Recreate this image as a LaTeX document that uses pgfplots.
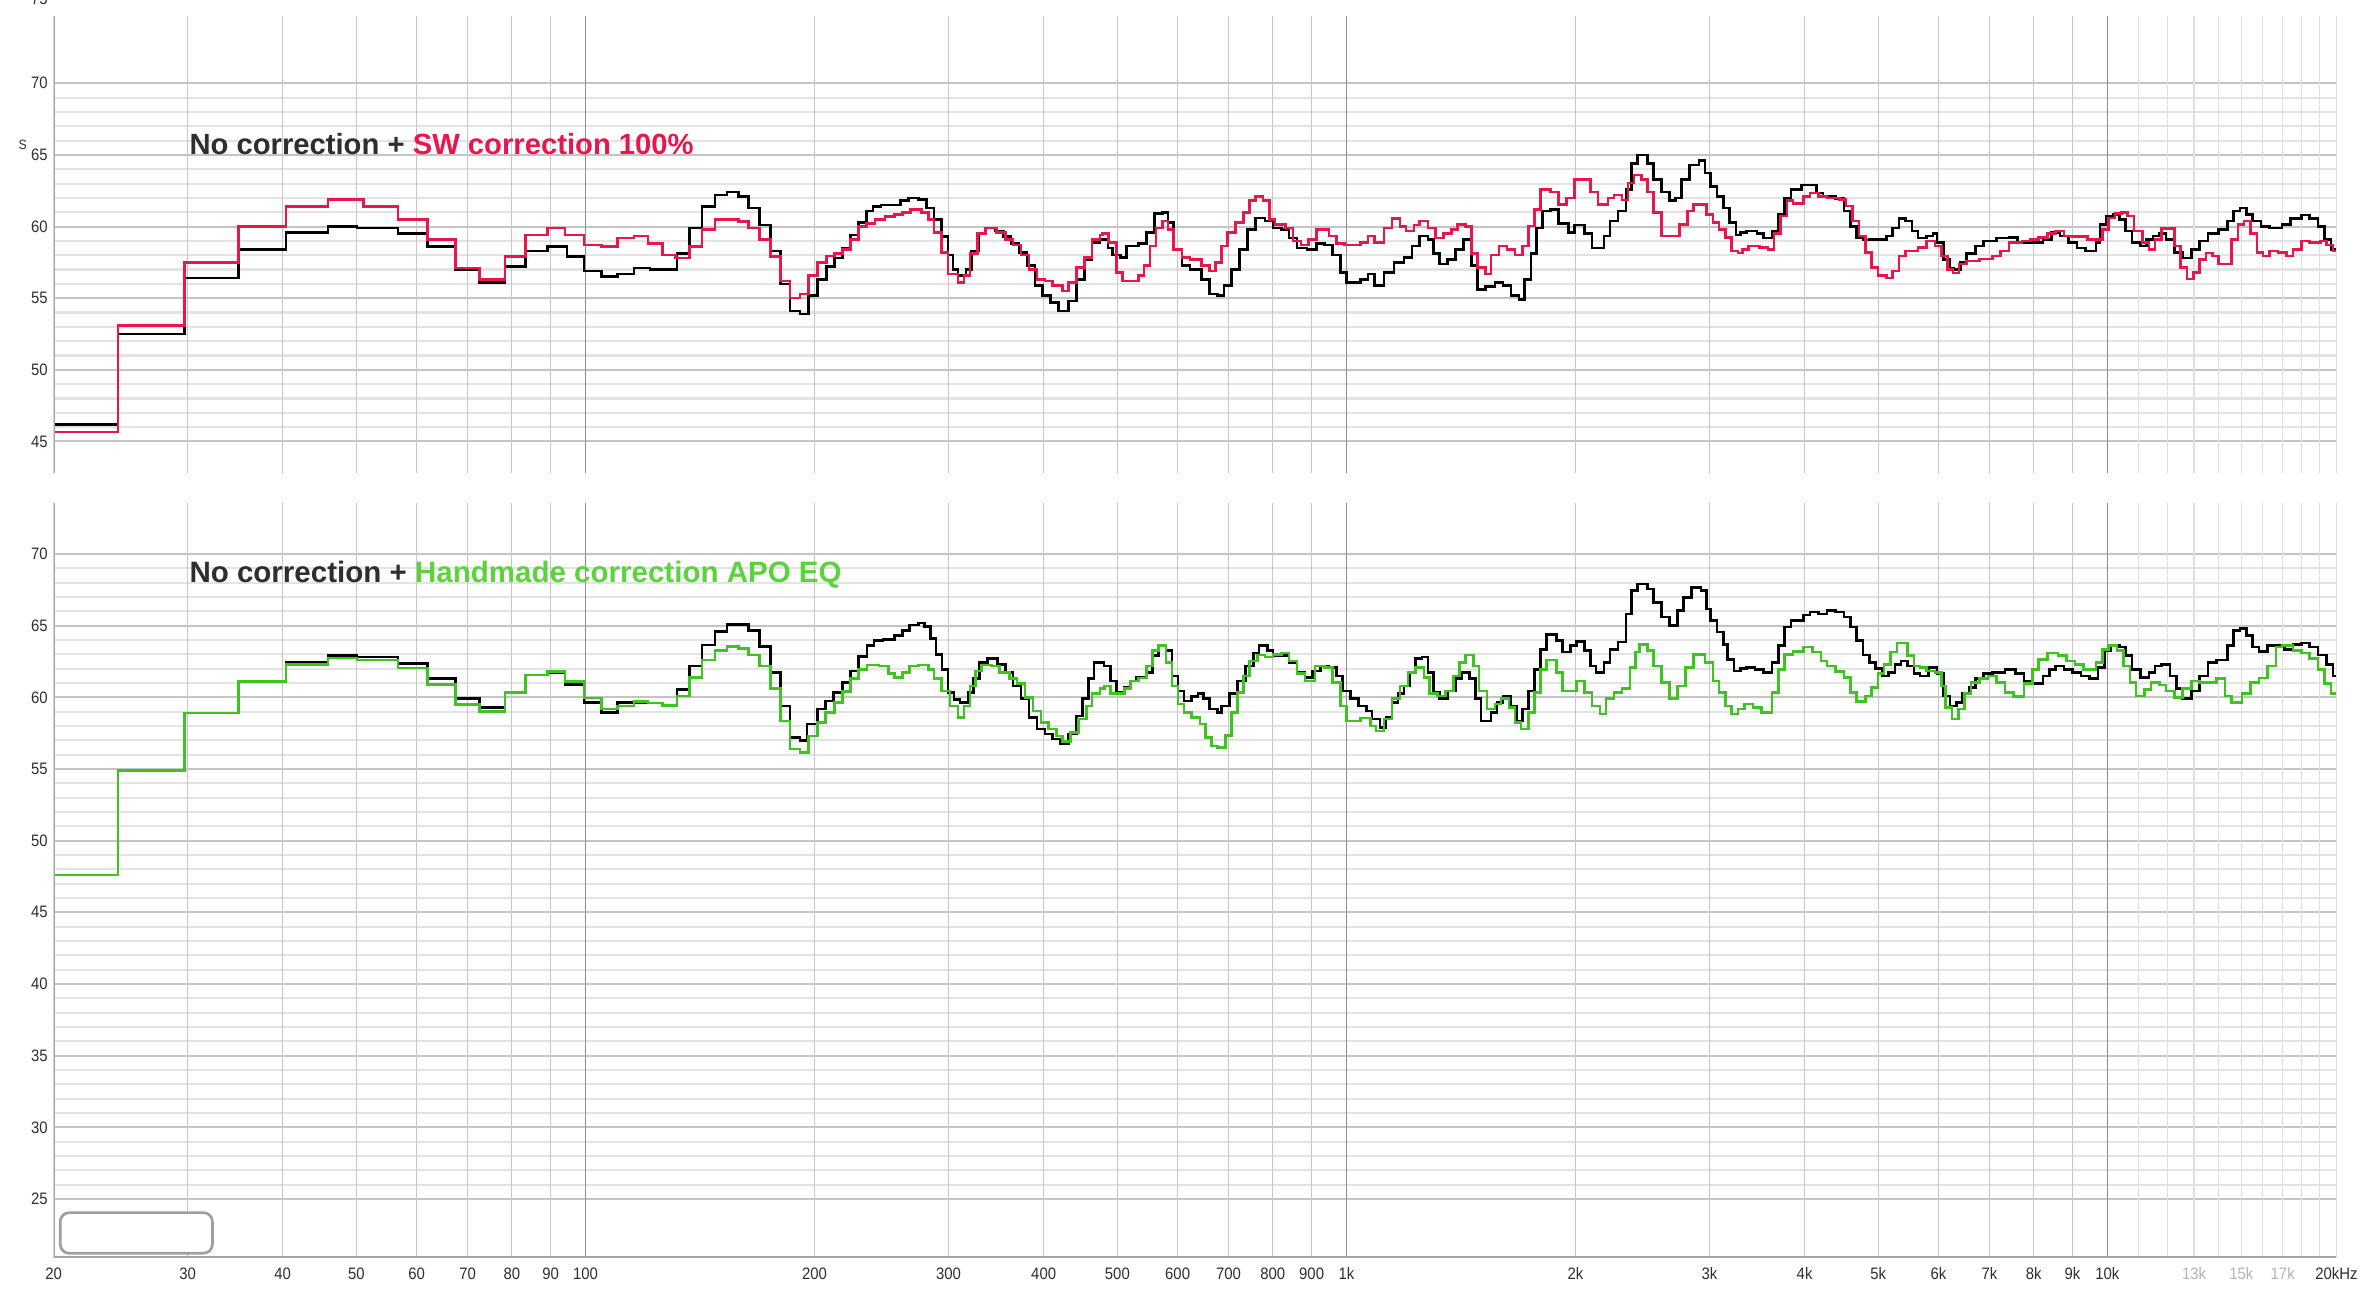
\documentclass[border=0pt]{standalone}
\usepackage{fontspec}
\setmainfont{Liberation Sans}
\newfontfamily\narrowfont[FakeStretch=0.9]{Liberation Sans}
\usepackage{pgfplots}
\usepackage{pgfplotstable}
\pgfplotsset{compat=1.18}
\definecolor{majgrid}{HTML}{C4C4C4}
\definecolor{mingrid}{HTML}{E3E3E3}
\definecolor{vgrid}{HTML}{C6C6C6}
\definecolor{dgrid}{HTML}{8E8E8E}
\definecolor{hgrid}{HTML}{E0E0E0}
\definecolor{axgray}{HTML}{A6A6A6}
\definecolor{swred}{HTML}{E8164A}
\definecolor{apogreen}{HTML}{3EC41E}
\definecolor{titlegreen}{HTML}{5CD23E}
\definecolor{titledark}{HTML}{2E2E2E}
\definecolor{lightlab}{HTML}{B4B4B4}

\newcommand{\vgrids}[2]{%
  \pgfplotsinvokeforeach{20,30,40,50,60,70,80,90,200,300,400,500,600,700,800,900,2000,3000,4000,5000,6000,7000,8000,9000}{%
    \draw[vgrid,line width=0.4pt] (axis cs:##1,#1) -- (axis cs:##1,#2);}%
  \pgfplotsinvokeforeach{11000,12000,13000,14000,15000,16000,17000,18000,19000}{%
    \draw[hgrid,line width=0.4pt] (axis cs:##1,#1) -- (axis cs:##1,#2);}%
  \pgfplotsinvokeforeach{100,1000,10000}{%
    \draw[dgrid,line width=0.45pt] (axis cs:##1,#1) -- (axis cs:##1,#2);}%
}

\pgfplotstableread{
f db
20 46.2
24.3 52.5
29.7 56.4
35.0 58.4
40.4 59.6
45.9 60.0
50.1 59.9
56.7 59.5
62.0 58.6
67.5 57.0
72.6 56.1
78.4 57.2
83.4 58.3
89.1 58.6
94.5 57.9
99.5 56.9
105 56.5
110.2 56.7
115.8 57.1
121.5 57.0
131.8 58.1
136.9 59.9
142.2 61.4
148 62.2
153.4 62.4
159 62.1
163.8 61.3
169.4 60.1
174.9 58.3
180.3 56.0
185.7 54.1
191.3 53.9
196.5 55.2
201.9 56.3
207.5 57.2
212.5 57.8
217.7 58.5
223 59.4
228.4 60.3
233.9 61.1
238.7 61.4
244.5 61.5
259.5 61.8
265.8 62.0
273.8 61.9
280.4 61.3
287.2 60.5
293.5 59.3
299.5 58.0
304.2 57.0
308.6 56.6
316.1 57.0
321.8 58.3
328.4 59.5
335.6 59.9
345.7 59.7
354 59.3
362.6 58.8
371.4 58.2
380.3 57.3
389.5 55.9
399 55.2
408.7 54.7
418.5 54.1
431.2 54.8
441.6 56.3
452.3 57.7
463.3 58.9
474.6 59.1
486 58.5
493 58.0
505 57.85
514 58.65
533 58.8
546 59.6
559 60.9
573 61.0
583 60.3
593 58.4
608 57.3
623 57.0
645 56.3
661 55.3
677 55.2
690 55.9
706 57.0
724 58.4
741 59.8
759 60.6
782 60.4
801 59.9
821 59.8
840 59.2
861 58.5
887 58.4
914 58.8
936 58.7
959 58.0
982 56.8
1000 56.1
1043 56.3
1068 56.7
1088 55.9
1121 56.8
1155 57.5
1190 57.85
1219 58.65
1248 59.35
1279 59.1
1302 58.1
1326 57.4
1358 57.7
1391 58.4
1425 59.1
1459 57.3
1486 55.6
1522 55.8
1568 56.1
1606 55.9
1645 55.2
1685 54.9
1715 56.3
1747 58.1
1778 59.9
1811 61.1
1855 61.2
1900 60.2
1958 59.6
1993 60.1
2054 59.5
2103 58.5
2180 59.35
2220 60.4
2274 61.1
2329 62.6
2371 64.4
2414 65.0
2488 64.4
2533 63.3
2595 62.4
2658 61.8
2706 62.0
2755 63.3
2822 64.3
2908 64.6
2960 63.75
3011 62.8
3069 62.1
3129 61.3
3189 60.3
3251 59.4
3293 59.6
3357 59.7
3466 59.5
3533 59.2
3625 59.7
3695 60.85
3767 62.0
3840 62.6
3965 62.9
4147 62.35
4227 62.1
4392 61.95
4507 61.1
4594 60.0
4684 59.25
4775 59.05
4868 59.1
5123 59.35
5223 59.9
5324 60.55
5428 60.4
5533 59.7
5640 59.2
5786 59.35
5898 59.5
5975 58.9
6091 57.7
6209 57.1
6289 57.0
6411 57.5
6535 58.1
6705 58.65
6879 59.0
7149 59.2
7429 59.25
7621 58.9
8230 59.1
8444 59.6
8662 59.35
8888 58.9
9119 58.5
9356 58.3
9660 58.9
9784 60.15
9975 60.75
10168 60.85
10366 60.5
10566 59.7
10772 58.9
11051 58.65
11265 59.1
11483 59.35
11706 59.5
11933 59.1
12244 58.2
12562 57.8
12889 58.4
13224 59.0
13567 59.5
14008 59.8
14372 60.4
14650 61.1
14934 61.3
15222 60.85
15518 60.4
15922 60.0
16334 59.9
16973 60.15
17418 60.55
17985 60.8
18450 60.55
18928 60.0
19295 59.1
19667 58.4
20000 58.4
}\blacktop

\pgfplotstableread{
f db
20 45.65
24.3 53.1
29.7 57.5
35.0 60.0
40.4 61.4
45.9 61.9
51.1 61.4
56.7 60.5
62.0 59.1
67.5 57.1
72.6 56.3
78.4 57.9
83.4 59.4
89.1 59.9
94.0 59.4
99.5 58.7
105 58.6
110.2 59.2
115.8 59.35
120.8 58.8
126.2 58.0
131.4 57.8
136.9 58.6
142.2 59.8
148 60.5
159 60.35
163.8 59.9
169.4 59.1
174.9 57.9
180.3 56.2
185.7 55.0
191.3 55.3
196.5 56.6
201.9 57.5
207.5 57.95
212.5 58.1
217.7 58.4
223 59.1
228.4 60.0
233.9 60.2
240.1 60.5
247.4 60.7
254.8 60.85
261 61.0
267.3 61.2
276.4 61.0
282.1 60.5
287.2 59.6
293.5 58.2
299.5 56.7
308.6 56.1
314.2 56.6
319.9 58.1
327.6 59.5
335.6 59.9
346.9 59.6
356.2 59.1
364.8 58.7
373.7 58.0
382.7 57.0
392 56.3
401.4 56.2
411.1 55.9
423.6 55.5
431.2 56.1
441.6 57.15
452.3 57.85
463.3 59.1
474.6 59.4
478 59.5
487 58.9
499 56.8
508 56.2
533 56.6
542 57.3
552 58.65
562 59.9
573 60.4
583 59.8
593 58.4
608 57.85
623 57.7
645 57.3
661 56.9
673 57.5
685 58.65
698 59.6
715 60.3
732 61.0
746 61.8
759 62.1
777 61.8
792 60.5
806 60.15
831 59.9
851 59.0
871 58.7
892 59.1
914 59.8
948 59.35
971 58.8
994 58.7
1043 58.9
1068 59.35
1088 58.9
1121 59.9
1148 60.55
1176 60.0
1197 59.7
1226 60.1
1248 60.4
1279 59.9
1310 59.2
1341 59.5
1374 59.8
1399 60.15
1433 60.0
1459 58.1
1486 57.15
1522 56.7
1549 58.0
1587 58.65
1625 58.4
1665 58.0
1705 58.65
1736 60.05
1768 61.2
1800 62.6
1855 62.4
1900 61.55
1946 62.0
1993 63.3
2091 62.4
2142 61.55
2207 62.0
2247 62.2
2301 61.85
2343 63.05
2386 63.6
2443 63.3
2488 62.4
2533 61.0
2595 59.35
2738 60.15
2805 61.1
2856 61.55
2972 60.85
3030 60.3
3089 59.8
3148 59.25
3209 58.3
3271 58.15
3314 58.4
3378 58.65
3489 58.55
3579 58.4
3648 59.5
3719 60.75
3791 61.8
3865 61.6
3990 62.1
4068 62.35
4174 62.1
4282 62.0
4449 61.9
4535 61.45
4624 60.4
4713 59.35
4806 58.2
4898 57.15
4993 56.6
5123 56.4
5223 56.9
5324 57.95
5428 58.3
5640 58.55
5786 59.0
5937 58.65
6051 57.95
6168 57.0
6271 56.75
6386 57.4
6535 57.6
6792 57.75
7059 57.95
7243 58.3
7429 58.9
7720 59.0
7920 59.1
8125 59.25
8337 59.5
8553 59.7
8774 59.35
9003 59.3
9415 59.1
9847 59.8
10039 60.6
10233 60.9
10432 61.0
10634 60.75
10841 59.7
11123 58.9
11337 58.4
11557 59.1
11782 59.85
12244 58.65
12482 57.15
12724 56.35
12972 56.8
13224 57.7
13482 58.15
13740 57.95
14008 57.4
14555 59.1
14838 60.15
15126 60.4
15420 59.5
15719 58.2
16025 57.95
16334 58.3
16759 58.2
17195 57.95
17528 58.4
17985 59.0
18450 58.9
19051 59.0
19419 58.7
19795 58.3
20000 58.3
}\redtop

\pgfplotstableread{
f db
20 47.6
24.3 54.9
29.7 58.9
35.0 61.1
40.4 62.45
45.9 62.9
50.1 62.8
56.7 62.35
62.0 61.3
67.5 59.9
72.6 59.3
78.4 60.35
83.4 61.55
89.1 61.75
94.0 60.9
99.5 59.65
105 58.95
110.2 59.65
120.8 59.6
126.2 59.45
131.8 60.55
136.9 62.2
142.2 63.65
148 64.6
153.4 65.1
163.8 64.65
169.4 63.55
174.9 61.75
180.3 59.4
185.7 57.2
191.3 57.0
195.5 58.15
201.9 59.2
206.8 59.75
211.8 60.35
217.7 61.05
223 61.85
228.4 62.85
234.4 63.6
239.5 63.95
245.9 64.05
254.8 64.3
261 64.65
266.7 65.05
273.8 65.2
278.8 64.95
283.8 64.1
288.9 63.0
294.2 61.95
299.5 60.35
304.9 59.85
310.5 59.65
318 60.35
323.7 61.3
329.6 62.45
337.6 62.7
347.9 62.3
356.2 61.75
364.8 60.8
373.7 59.9
382.7 58.6
392.0 57.8
401.4 57.45
411.1 57.1
421.0 56.75
431.2 57.45
441.6 58.7
449.6 59.9
457.8 61.3
466.0 62.45
480 62.2
490 61.15
499 60.35
511 60.7
520 61.15
530 61.4
546 61.75
556 62.9
566 63.6
579 63.25
590 61.5
601 60.45
612 59.75
626 60.05
638 60.25
649 59.9
661 59.2
677 58.95
685 59.4
702 60.25
719 61.15
737 62.2
755 63.1
768 63.6
787 63.25
801 62.9
840 62.45
861 61.75
882 61.4
903 61.85
925 62.2
948 62.1
971 61.5
988 60.45
1012 59.9
1037 59.4
1062 59.05
1081 58.5
1107 57.9
1127 58.6
1148 59.65
1169 60.25
1190 60.8
1211 61.75
1233 62.7
1256 62.8
1279 61.75
1302 60.35
1326 59.9
1358 60.45
1391 61.3
1416 61.75
1450 61.3
1477 59.9
1503 58.35
1549 58.95
1577 59.65
1606 60.05
1645 59.4
1675 58.35
1705 59.2
1736 60.45
1768 61.95
1800 63.35
1832 64.4
1888 63.95
1922 63.15
1969 63.6
2005 63.9
2054 63.25
2091 62.2
2129 61.75
2180 62.45
2220 63.35
2274 63.85
2329 65.8
2371 67.45
2414 67.9
2488 67.55
2533 66.6
2595 65.6
2658 65.0
2722 66.05
2772 66.95
2839 67.65
2925 67.45
2972 66.15
3011 65.35
3069 64.55
3129 63.7
3169 62.65
3230 61.85
3293 62.0
3357 62.1
3443 61.95
3533 61.75
3625 62.45
3695 63.6
3767 64.9
3840 65.35
3990 65.75
4068 65.95
4174 65.8
4282 66.05
4392 65.95
4507 65.6
4594 64.9
4684 63.95
4775 62.95
4868 62.45
4961 62.0
5058 61.5
5156 61.75
5256 62.3
5358 62.55
5462 62.2
5568 61.65
5675 61.5
5823 62.1
5975 61.65
6091 60.1
6209 59.4
6330 59.65
6452 60.25
6577 60.7
6705 61.3
6879 61.65
7059 61.75
7334 61.95
7573 61.65
7770 61.15
7971 60.95
8230 61.5
8391 61.95
8553 62.2
8774 61.95
9003 61.75
9236 61.5
9475 61.3
9723 62.1
9911 63.25
10103 63.6
10366 63.5
10566 62.9
10772 61.95
11051 61.4
11337 61.75
11557 62.2
11782 62.3
12090 61.5
12324 60.6
12562 59.9
12889 60.45
13224 61.5
13567 62.45
13918 62.6
14372 63.6
14650 64.65
14934 64.8
15222 64.3
15518 63.5
15820 63.2
16230 63.6
16653 63.65
17085 63.35
17528 63.7
17985 63.8
18450 63.5
18928 62.95
19419 62.3
19795 61.5
20000 61.5
}\blackbottom

\pgfplotstableread{
f db
20 47.6
24.3 54.9
29.7 58.9
35.0 61.1
40.4 62.3
45.9 62.75
50.1 62.6
56.7 62.05
62.0 60.9
67.5 59.5
72.6 59.0
78.4 60.35
83.4 61.55
89.1 61.8
94.0 61.1
99.5 59.95
105 59.2
110.2 59.4
115.8 59.7
120.8 59.6
126.2 59.45
131.8 60.1
136.9 61.4
142.2 62.6
148 63.25
153.4 63.55
159 63.4
163.8 62.95
169.4 62.2
174.9 60.6
180.3 58.35
185.7 56.4
191.3 56.15
196.5 57.3
201.9 58.25
206.8 58.95
212.5 59.65
217.7 60.4
223 61.3
228.4 61.95
234.4 62.25
243.0 62.2
250.3 61.65
254.8 61.4
261 61.75
266.7 62.2
273.8 62.25
282.1 61.95
287.2 61.3
293.5 60.45
301.3 59.4
308.6 58.6
314.2 59.4
319.9 60.8
325.7 61.85
331.6 62.25
341.7 62.2
349.9 61.75
360.5 61.3
369.2 60.95
378.2 60.0
387.3 59.05
396.6 58.25
406.2 57.8
416.0 57.3
423.6 56.9
433.8 57.55
444.2 58.5
455.0 59.4
463.3 60.25
474.6 60.6
481 60.8
490 60.25
511 60.6
520 61.15
533 61.35
546 62.2
556 63.25
566 63.6
579 62.45
590 60.8
601 59.55
612 58.95
626 58.6
642 58.15
653 57.2
665 56.6
677 56.5
694 57.35
706 58.95
719 60.35
732 61.5
746 62.55
764 62.95
782 62.8
801 63.0
821 63.1
840 62.55
861 61.65
882 61.15
909 62.2
936 62.1
959 61.05
982 59.4
1000 58.35
1043 58.55
1075 58.0
1094 57.65
1121 58.5
1148 59.9
1176 60.8
1204 61.75
1233 62.1
1264 61.4
1286 60.25
1318 60.1
1350 60.45
1382 61.5
1407 62.45
1433 62.95
1468 62.2
1494 60.45
1531 59.2
1568 59.55
1596 59.9
1635 59.3
1665 58.25
1695 57.8
1736 58.95
1768 60.35
1800 61.95
1832 62.6
1888 61.75
1922 60.45
2005 61.15
2054 60.35
2103 59.4
2154 58.85
2193 59.9
2247 60.35
2301 60.6
2357 62.1
2400 63.15
2429 63.7
2488 63.25
2533 62.2
2595 61.05
2658 59.9
2722 60.8
2788 62.1
2856 63.0
2960 62.45
3030 61.15
3089 60.35
3148 59.4
3209 58.85
3271 59.2
3335 59.55
3421 59.3
3510 58.95
3625 60.35
3695 61.95
3767 63.0
3865 63.2
3990 63.5
4094 63.15
4201 62.55
4282 62.2
4392 61.8
4507 61.4
4594 60.35
4684 59.7
4806 60.1
4898 60.7
4993 61.65
5090 62.3
5190 63.15
5290 63.8
5462 62.9
5568 62.2
5675 62.1
5786 61.85
5937 61.75
6051 60.8
6130 59.3
6249 58.5
6370 59.2
6494 60.25
6619 61.05
6792 61.3
6967 61.5
7149 61.05
7334 60.35
7524 60.05
7770 60.95
7971 61.95
8125 62.65
8337 63.1
8608 62.9
8831 62.55
9061 62.3
9296 61.95
9660 62.45
9847 63.35
10039 63.6
10299 63.25
10498 62.2
10703 61.05
10910 60.1
11195 60.55
11410 61.05
11706 60.85
11933 60.45
12244 60.0
12562 60.6
12889 61.15
13224 61.05
13918 61.3
14279 60.1
14555 59.65
15031 60.25
15420 61.05
15820 61.35
16230 62.2
16653 63.5
16973 63.6
17528 63.25
17985 63.1
18450 62.7
18928 61.95
19295 60.95
19667 60.25
20000 60.25
}\greenbottom

\begin{document}
\begin{tikzpicture}
\path[use as bounding box] (0,0) rectangle (784pt,435.5pt);

% ---------- top panel ----------
\begin{axis}[
  scale only axis, width=757.7pt, height=151.7pt,
  at={(17.8pt,278.5pt)}, anchor=south west,
  xmode=log, xmin=20, xmax=20000, ymin=42.8, ymax=74.7,
  axis line style={draw=none},
  major tick length=0pt, minor tick length=0pt,
  ymajorgrids=true, yminorgrids=true, minor y tick num=4,
  major grid style={majgrid, line width=0.65pt},
  minor grid style={mingrid, line width=0.7pt},
  ytick={45,50,55,60,65,70}, xtick=\empty,
  tick label style={font=\narrowfont\fontsize{5.5}{6}\selectfont, text=titledark},
  yticklabel style={inner sep=0pt, xshift=-1.8pt},
  yticklabel={\pgfmathprintnumber[assume math mode=true]{\tick}},
  ]
  \vgrids{42.8}{74.7}
  \addplot[const plot, line width=0.85pt, black] table[x=f,y=db] {\blacktop};
  \addplot[const plot, line width=0.85pt, swred] table[x=f,y=db] {\redtop};
  \draw[axgray, line width=1.1pt] (rel axis cs:0,0) -- (rel axis cs:0,1);
  \draw[axgray, line width=0.6pt] (rel axis cs:1,0) -- (rel axis cs:1,1);
\end{axis}

% ---------- bottom panel ----------
\begin{axis}[
  scale only axis, width=757.7pt, height=250.5pt,
  at={(17.8pt,18pt)}, anchor=south west,
  xmode=log, xmin=20, xmax=20000, ymin=20.9, ymax=73.55,
  axis line style={draw=none},
  major tick length=0pt, minor tick length=0pt,
  ymajorgrids=true, yminorgrids=true, minor y tick num=4,
  major grid style={majgrid, line width=0.65pt},
  minor grid style={mingrid, line width=0.7pt},
  ytick={25,30,35,40,45,50,55,60,65,70},
  xtick={20,30,40,50,60,70,80,90,100,200,300,400,500,600,700,800,900,1000,2000,3000,4000,5000,6000,7000,8000,9000,10000,13000,15000,17000,20000},
  xticklabels={20,30,40,50,60,70,80,90,100,200,300,400,500,600,700,800,900,1k,2k,3k,4k,5k,6k,7k,8k,9k,10k,{\textcolor{lightlab}{13k}},{\textcolor{lightlab}{15k}},{\textcolor{lightlab}{17k}},20kHz},
  tick label style={font=\narrowfont\fontsize{5.5}{6}\selectfont, text=titledark},
  xticklabel style={inner sep=0pt, yshift=-3pt},
  yticklabel style={inner sep=0pt, xshift=-1.8pt},
  yticklabel={\pgfmathprintnumber[assume math mode=true]{\tick}},
  ]
  \vgrids{20.9}{73.55}
  \addplot[const plot, line width=0.85pt, black] table[x=f,y=db] {\blackbottom};
  \addplot[const plot, line width=0.85pt, apogreen] table[x=f,y=db] {\greenbottom};
  \draw[axgray, line width=1.1pt] (rel axis cs:0,0) -- (rel axis cs:0,1);
  \draw[axgray, line width=1.1pt] (rel axis cs:0,0) -- (rel axis cs:1,0);
  \draw[axgray, line width=0.6pt] (rel axis cs:1,0) -- (rel axis cs:1,1);
\end{axis}

% titles and small decorations
\node[anchor=base west, inner sep=0pt, font=\bfseries\fontsize{9.7}{11}\selectfont]
  at (62.7pt,384.25pt) {\textcolor{titledark}{No correction +} \textcolor{swred}{SW correction 100\%}};
\node[anchor=base west, inner sep=0pt, font=\bfseries\fontsize{9.8}{11}\selectfont]
  at (62.7pt,242.1pt) {\textcolor{titledark}{No correction +} \textcolor{titlegreen}{Handmade correction APO EQ}};
\node[anchor=east, inner sep=0pt, font=\narrowfont\fontsize{5.5}{6}\selectfont, text=titledark] at (16pt,436pt) {75};
\node[inner sep=0pt, font=\narrowfont\fontsize{4.5}{5}\selectfont, text=titledark] at (7.5pt,387.5pt) {S};
\draw[gray!75, line width=0.9pt, rounded corners=3pt, fill=white] (20pt,19.5pt) rectangle (70.5pt,33pt);
\end{tikzpicture}
\end{document}
